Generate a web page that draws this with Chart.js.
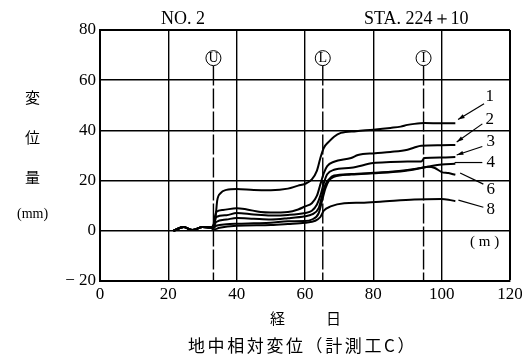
<!DOCTYPE html>
<html>
<head>
<meta charset="utf-8">
<script src="https://cdn.jsdelivr.net/npm/chart.js@4.4.1/dist/chart.umd.min.js"></script>
<style>
  body { margin: 0; background: #fff; }
  #wrap { position: relative; width: 522px; height: 360px; }
  .t { position: absolute; color: #000; white-space: nowrap; line-height: 1; font-family: "Liberation Serif", "DejaVu Serif", serif; }
  .j { font-family: "Noto Sans CJK JP", sans-serif; }
</style>
</head>
<body>
<div id="wrap">
  <canvas id="chart" width="522" height="360"></canvas>
  <div class="t" style="left:161px;top:9px;font-size:18px">NO. 2</div>
  <div class="t" style="left:364px;top:9px;font-size:18px">STA. 224＋10</div>
  <div class="t j" style="left:25px;top:89px;font-size:15px">変</div>
  <div class="t j" style="left:25px;top:129px;font-size:15px">位</div>
  <div class="t j" style="left:25px;top:169px;font-size:15px">量</div>
  <div class="t" style="left:17px;top:207px;font-size:14px">(mm)</div>
  <div class="t" style="left:470px;top:234px;font-size:15px">( m )</div>
  <div class="t j" style="left:270px;top:310px;font-size:15px">経</div>
  <div class="t j" style="left:326px;top:310px;font-size:15px">日</div>
  <div class="t j" style="left:188px;top:336px;font-size:17px;letter-spacing:2.6px">地中相対変位（計測工C）</div>
</div>
<script>
// measured curves (x: days, y: mm)
const days1 = [21.5, 24.5, 27, 30, 32.4, 33.2, 33.8, 34.3, 35.3, 37, 40, 45, 50, 55, 58, 60, 62, 63.5, 64.5, 65.5, 67, 68.5, 70.5, 75, 80, 85, 88, 90, 92, 95, 100, 104];
const no1 = [0, 1.5, 0.3, 1.5, 1.3, 1.5, 5, 12, 15, 16.3, 16.7, 16.3, 16.2, 16.8, 18, 18.7, 20.5, 24, 29, 33, 35.5, 37.5, 39, 39.7, 40.3, 41, 41.5, 42.2, 42.6, 42.9, 42.8, 42.8];

const days2 = [21.5, 24.5, 27, 30, 32.4, 33.2, 34, 36, 40, 43, 47, 50, 55, 58, 60, 62, 63.5, 64.5, 65.5, 66.5, 68.5, 73.5, 75.5, 80.5, 85, 90, 92, 94, 100, 104];
const no2 = [0, 1.5, 0.3, 1.5, 1.3, 2.5, 7.5, 8.3, 9.0, 8.5, 7.5, 7.3, 7.5, 8.5, 9.7, 11, 14, 18.5, 23, 25.8, 27.5, 29, 30.2, 30.9, 31.4, 32.3, 33.2, 33.9, 34.1, 34.2];

const days3 = [21.5, 24.5, 27, 30, 32.4, 33.2, 34, 37, 40, 45, 50, 55, 60, 62, 63.5, 64.5, 65.5, 66.5, 68.5, 73.5, 80, 85, 90, 94, 95, 100, 104];
const no3 = [0, 1.5, 0.3, 1.5, 1.3, 2, 5.5, 6.2, 7.1, 6.5, 6.1, 6.3, 7.1, 8, 10.5, 14, 19, 22.5, 24.3, 25.1, 27, 27.4, 27.6, 27.6, 29.0, 29.2, 29.4];

const days4 = [21.5, 24.5, 27, 30, 32.4, 33.2, 34, 37, 40, 45, 50, 55, 60, 62, 64, 65, 66, 67, 68.5, 73.5, 80, 85, 90, 94, 97, 100, 104];
const no4 = [0, 1.5, 0.3, 1.5, 1.3, 1.5, 3.5, 4.5, 5.1, 4.8, 4.5, 5, 5.8, 6.5, 9, 14, 18.5, 20.5, 22.0, 22.6, 23.1, 23.5, 24.2, 25, 25.8, 26.4, 26.7];

const days6 = [21.5, 24.5, 27, 30, 32.4, 33.2, 34, 37, 40, 45, 50, 55, 60, 62, 64, 65, 66, 67, 68.5, 73.5, 80, 85, 90, 94, 96, 98, 100, 102, 104];
const no6 = [0, 1.5, 0.3, 1.5, 1.3, 1, 2, 2.6, 2.8, 3.0, 3.2, 3.8, 3.9, 4.5, 7, 12, 17, 20, 21.5, 22.4, 22.9, 23.3, 24, 25, 25.5, 25, 23.4, 23, 22.3];

const days8 = [21.5, 24.5, 27, 30, 32.4, 33.2, 35, 40, 50, 55, 60, 63, 64.5, 65.5, 67.5, 71.5, 76.5, 82, 92, 100, 102, 104];
const no8 = [0, 1.5, 0.3, 1.5, 1.3, 0.5, 1.2, 2.0, 2.3, 2.7, 3.2, 4, 5.5, 8, 9.7, 11, 11.2, 11.6, 12.5, 12.7, 12.4, 11.8];

const seriesNames = ['1', '2', '3', '4', '6', '8'];
const seriesDays = [days1, days2, days3, days4, days6, days8];
const seriesValues = [no1, no2, no3, no4, no6, no8];

const xTicks = [0, 20, 40, 60, 80, 100, 120];
const yTicks = [-20, 0, 20, 40, 60, 80];

// construction stages marked on the chart
const stageNames = ['U', 'L', 'I'];
const stageDays = [33.2, 65.2, 94.7];

// label / leader placement (data units)
const labelPos = [[114.1, 53.5], [114.1, 44.5], [114.4, 35.6], [114.4, 27], [114.4, 16.6], [114.4, 8.6]];
const leaderFrom = [[112.4, 50.6], [111.9, 42.6], [111.9, 33.6], [111.9, 27.2], [112.2, 18.6], [112.2, 9.4]];
const leaderTo = [[104.8, 44.3], [104.4, 35.4], [104.4, 30.2], [103.8, 27.2], [105.4, 23.0], [104.9, 12.2]];
const leaderArrow = [true, true, true, false, false, false];

const serif = '"Liberation Serif", "DejaVu Serif", serif';

const datasets = seriesNames.map((name, i) => ({
  label: name,
  data: seriesDays[i].map((d, k) => ({ x: d, y: seriesValues[i][k] })),
  borderColor: '#000',
  borderWidth: 2,
  pointRadius: 0,
  fill: false,
  cubicInterpolationMode: 'monotone'
}));

const overlay = {
  id: 'overlay',
  beforeDatasetsDraw(chart) {
    const { ctx, scales: { x, y } } = chart;
    ctx.save();
    ctx.strokeStyle = '#000';
    stageDays.forEach((d, i) => {
      const px = x.getPixelForValue(d);
      const cy = y.getPixelForValue(68.8);
      ctx.lineWidth = 1.4;
      ctx.setLineDash([20, 3]);
      ctx.beginPath();
      ctx.moveTo(px, cy + 7.5);
      ctx.lineTo(px, y.getPixelForValue(-20));
      ctx.stroke();
      ctx.setLineDash([]);
      ctx.lineWidth = 1;
      ctx.beginPath();
      ctx.arc(px, cy, 7.5, 0, Math.PI * 2);
      ctx.fillStyle = '#fff';
      ctx.fill();
      ctx.stroke();
      ctx.fillStyle = '#000';
      ctx.font = '14px ' + serif;
      ctx.textAlign = 'center';
      ctx.textBaseline = 'middle';
      ctx.fillText(stageNames[i], px, cy + 0.5);
    });
    ctx.restore();
  },
  afterDatasetsDraw(chart) {
    const { ctx, scales: { x, y } } = chart;
    ctx.save();
    ctx.setLineDash([]);
    ctx.strokeStyle = '#000';
    ctx.fillStyle = '#000';
    ctx.lineWidth = 1.2;
    seriesNames.forEach((name, i) => {
      const x1 = x.getPixelForValue(leaderFrom[i][0]);
      const y1 = y.getPixelForValue(leaderFrom[i][1]);
      const x2 = x.getPixelForValue(leaderTo[i][0]);
      const y2 = y.getPixelForValue(leaderTo[i][1]);
      ctx.beginPath();
      ctx.moveTo(x1, y1);
      ctx.lineTo(x2, y2);
      ctx.stroke();
      if (leaderArrow[i]) {
        const a = Math.atan2(y2 - y1, x2 - x1);
        ctx.beginPath();
        ctx.moveTo(x2, y2);
        ctx.lineTo(x2 - 7 * Math.cos(a - 0.3), y2 - 7 * Math.sin(a - 0.3));
        ctx.lineTo(x2 - 7 * Math.cos(a + 0.3), y2 - 7 * Math.sin(a + 0.3));
        ctx.closePath();
        ctx.fill();
      }
      ctx.font = '17px ' + serif;
      ctx.textAlign = 'center';
      ctx.textBaseline = 'middle';
      ctx.fillText(name, x.getPixelForValue(labelPos[i][0]), y.getPixelForValue(labelPos[i][1]));
    });
    ctx.restore();
  }
};

new Chart(document.getElementById('chart'), {
  type: 'line',
  data: { datasets },
  options: {
    responsive: false,
    animation: false,
    devicePixelRatio: 1,
    layout: { padding: { top: 30, right: 12, left: 0, bottom: 0 } },
    plugins: { legend: { display: false }, tooltip: { enabled: false } },
    scales: {
      x: {
        type: 'linear',
        min: 0,
        max: 120,
        afterBuildTicks: s => { s.ticks = xTicks.map(v => ({ value: v })); },
        afterFit: s => { s.height = 79; s.paddingLeft = 0; s.paddingRight = 0; },
        grid: {
          color: '#000',
          lineWidth: c => (c.tick && c.tick.value === 120 ? 2 : 1.4),
          drawTicks: false
        },
        border: { color: '#000', width: 2 },
        ticks: { color: '#000', padding: 3, maxRotation: 0, font: { family: serif, size: 17 } }
      },
      y: {
        min: -20,
        max: 80,
        afterBuildTicks: s => { s.ticks = yTicks.map(v => ({ value: v })); },
        afterFit: s => { s.width = 100; s.paddingTop = 0; s.paddingBottom = 0; },
        grid: {
          color: '#000',
          lineWidth: c => (c.tick && (c.tick.value === 80 || c.tick.value === -20) ? 2 : 1.4),
          drawTicks: false
        },
        border: { color: '#000', width: 2 },
        ticks: {
          color: '#000',
          padding: 4,
          font: { family: serif, size: 17 },
          callback: v => (v < 0 ? '− ' + Math.abs(v) : v)
        }
      }
    }
  },
  plugins: [overlay]
});
</script>
</body>
</html>
